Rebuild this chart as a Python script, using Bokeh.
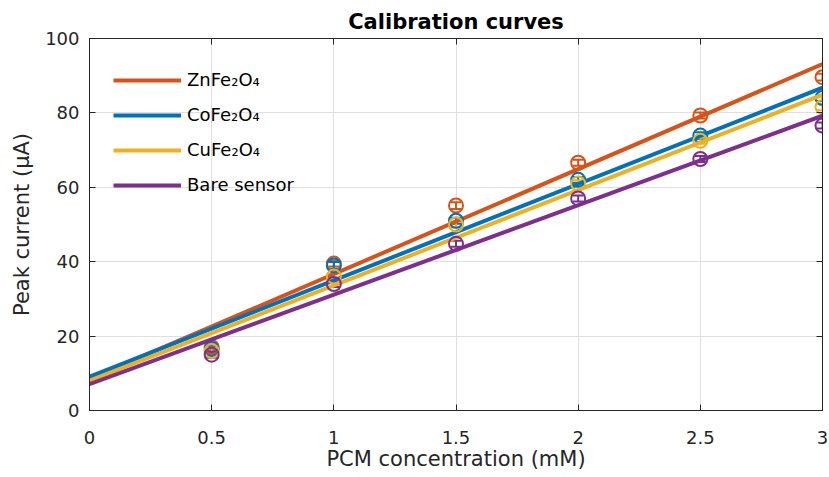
import numpy as np
from bokeh.plotting import figure
from bokeh.models import (ColumnDataSource, Whisker, TeeHead, LinearAxis, FixedTicker,
                          CustomJSTickFormatter, Legend, LegendItem, Range1d)
from bokeh.embed import file_html
from bokeh.resources import INLINE

# ---- data ----
conc = [0.5, 1.0, 1.5, 2.0, 2.5, 3.0]
series_names = ["ZnFe₂O₄", "CoFe₂O₄", "CuFe₂O₄", "Bare sensor"]
zn_vals = [17.0, 39.5, 55.1, 66.6, 79.3, 89.6]
co_vals = [16.5, 39.0, 51.0, 62.0, 73.9, 84.0]
cu_vals = [16.0, 36.0, 50.0, 61.0, 72.5, 81.6]
bare_vals = [15.0, 34.0, 44.8, 57.0, 67.6, 76.6]
zn_err = [0.8, 0.8, 0.9, 0.8, 0.8, 0.9]
co_err = [0.8, 0.9, 0.8, 0.8, 0.9, 0.8]
cu_err = [0.9, 0.8, 0.8, 0.9, 0.8, 0.9]
bare_err = [0.8, 0.8, 0.8, 0.8, 0.8, 0.8]
colors = ["#D95319", "#0072BD", "#EDB120", "#7E2F8E"]
x_ticks = [0, 0.5, 1, 1.5, 2, 2.5, 3]
y_ticks = [0, 20, 40, 60, 80, 100]
fit_x = [0.0, 3.0]

FONT = "DejaVu Sans"
AX = "#262626"

p = figure(width=829, height=477, output_backend="svg", toolbar_location=None,
           x_range=Range1d(0, 3), y_range=Range1d(0, 100),
           min_border_left=89, min_border_right=7, min_border_top=38, min_border_bottom=67)
p.title.text = "Calibration curves"
p.title.align = "center"
p.title.text_font = FONT
p.title.text_font_size = "21px"
p.title.text_font_style = "bold"
p.title.text_color = "black"
p.title.standoff = 9

p.outline_line_color = AX
p.outline_line_width = 1
p.background_fill_color = "white"
p.border_fill_color = "white"

fmt = CustomJSTickFormatter(code="return String(tick);")
for ax in [p.xaxis[0], p.yaxis[0]]:
    ax.major_tick_in = 6
    ax.major_tick_out = 0
    ax.minor_tick_line_color = None
    ax.axis_line_color = AX
    ax.major_tick_line_color = AX
    ax.major_label_text_color = AX
    ax.major_label_text_font = FONT
    ax.major_label_text_font_size = "18px"
    ax.axis_label_text_font = FONT
    ax.axis_label_text_font_size = "21px"
    ax.axis_label_text_font_style = "normal"
    ax.axis_label_text_color = AX
    ax.formatter = fmt
p.xaxis[0].ticker = FixedTicker(ticks=x_ticks)
p.yaxis[0].ticker = FixedTicker(ticks=y_ticks)
p.xaxis[0].axis_label = "PCM concentration (mM)"
p.yaxis[0].axis_label = "Peak current (μA)"
p.xaxis[0].major_label_standoff = 20
p.xaxis[0].axis_label_standoff = 0
p.yaxis[0].major_label_standoff = 10
p.yaxis[0].axis_label_standoff = 8

blank = CustomJSTickFormatter(code="return '';")
for loc, ticks in [("above", x_ticks), ("right", y_ticks)]:
    a = LinearAxis(ticker=FixedTicker(ticks=ticks), formatter=blank,
                   major_tick_in=6, major_tick_out=0, minor_tick_line_color=None,
                   axis_line_color=AX, major_tick_line_color=AX, major_label_standoff=0)
    p.add_layout(a, loc)

p.xgrid.ticker = FixedTicker(ticks=x_ticks)
p.ygrid.ticker = FixedTicker(ticks=y_ticks)
p.grid.grid_line_color = "#DFDFDF"
p.grid.grid_line_width = 1

vals = [zn_vals, co_vals, cu_vals, bare_vals]
errs = [zn_err, co_err, cu_err, bare_err]
items = []
for name, v, e, c in zip(series_names, vals, errs, colors):
    v = np.array(v); e = np.array(e)
    src = ColumnDataSource(dict(x=conc, y=v, lo=v - e, hi=v + e))
    wh = Whisker(source=src, base="x", upper="hi", lower="lo", line_color=c, line_width=2,
                 upper_head=TeeHead(size=11, line_color=c, line_width=2),
                 lower_head=TeeHead(size=11, line_color=c, line_width=2))
    p.add_layout(wh)
    p.scatter("x", "y", source=src, marker="circle", size=14, fill_color=None,
              line_color=c, line_width=2)
    slope, icpt = np.polyfit(conc, v, 1)
    fy = [slope * fx + icpt for fx in fit_x]
    r = p.line(fit_x, fy, line_color=c, line_width=4)
    items.append(LegendItem(label=name, renderers=[r]))

leg = Legend(items=items, location=(24, 215), orientation="vertical",
             label_text_font=FONT, label_text_font_size="18px", label_text_color="black",
             glyph_width=68, glyph_height=20, label_height=20, label_standoff=6,
             spacing=14, padding=0, margin=0, border_line_color=None,
             background_fill_alpha=0)
p.add_layout(leg, "center")

open("out.html", "w").write(file_html(p, INLINE))
